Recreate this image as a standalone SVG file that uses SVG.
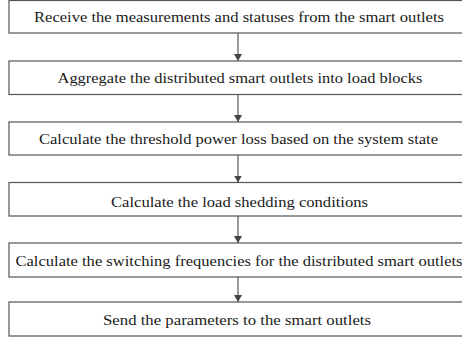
<svg xmlns="http://www.w3.org/2000/svg" width="462" height="341" viewBox="0 0 462 341">
<style>
.box{fill:#fff;stroke:#555;stroke-width:1.2}
.t{font-family:'Liberation Serif','Times New Roman',serif;font-size:14.5px;fill:#1a1a1a;text-anchor:middle}
.c{stroke:#555;stroke-width:1.2;fill:none;marker-end:url(#ah)}
</style>
<defs>
<marker id="ah" viewBox="0 0 7 11" refX="7" refY="5.5" markerWidth="7" markerHeight="11" markerUnits="userSpaceOnUse" orient="auto">
<path d="M0,1.5 L7,5.5 L0,9.5 Z" fill="#444"/>
</marker>
</defs>
<rect width="462" height="341" fill="#fff"/>
<g id="connectors">
<line class="c" x1="238" y1="33" x2="238" y2="61"/>
<line class="c" x1="238" y1="94.5" x2="238" y2="122"/>
<line class="c" x1="238" y1="155" x2="238" y2="182.5"/>
<line class="c" x1="238" y1="216" x2="238" y2="243"/>
<line class="c" x1="238" y1="277" x2="238" y2="302"/>
</g>
<g id="n1"><rect class="box" x="9" y="0.5" width="460" height="32.5"/><text class="t" x="239" y="22.3" textLength="410" lengthAdjust="spacingAndGlyphs">Receive the measurements and statuses from the smart outlets</text></g>
<g id="n2"><rect class="box" x="9" y="61" width="460" height="33.5"/><text class="t" x="240" y="83" textLength="365" lengthAdjust="spacingAndGlyphs">Aggregate the distributed smart outlets into load blocks</text></g>
<g id="n3"><rect class="box" x="9" y="122" width="460" height="33"/><text class="t" x="238.5" y="144" textLength="399" lengthAdjust="spacingAndGlyphs">Calculate the threshold power loss based on the system state</text></g>
<g id="n4"><rect class="box" x="9" y="182.5" width="460" height="33.5"/><text class="t" x="239.5" y="206.5" textLength="257" lengthAdjust="spacingAndGlyphs">Calculate the load shedding conditions</text></g>
<g id="n5"><rect class="box" x="9" y="243" width="460" height="34"/><text class="t" x="239" y="266" textLength="447" lengthAdjust="spacingAndGlyphs">Calculate the switching frequencies for the distributed smart outlets</text></g>
<g id="n6"><rect class="box" x="9" y="302" width="460" height="34"/><text class="t" x="237" y="325" textLength="268" lengthAdjust="spacingAndGlyphs">Send the parameters to the smart outlets</text></g>
</svg>
